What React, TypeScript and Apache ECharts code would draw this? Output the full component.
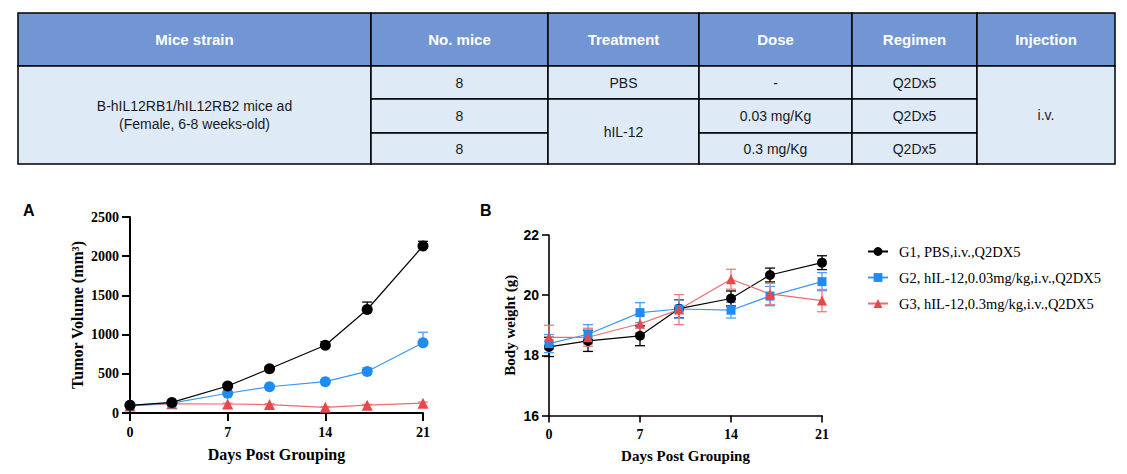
import React, { useEffect, useRef } from "react";
import * as echarts from "echarts";

// ---------- data ----------
const days = [0, 3, 7, 10, 14, 17, 21];
const groupNames = [
  "G1, PBS,i.v.,Q2DX5",
  "G2, hIL-12,0.03mg/kg,i.v.,Q2DX5",
  "G3, hIL-12,0.3mg/kg,i.v.,Q2DX5",
];
const xTicks = [0, 7, 14, 21];

const tumorG1 = [98, 135, 345, 565, 865, 1320, 2130];
const tumorG1Err = [8, 12, 20, 22, 45, 95, 60];
const tumorG2 = [98, 125, 252, 335, 400, 530, 895];
const tumorG2Err = [8, 10, 15, 15, 20, 45, 135];
const tumorG3 = [90, 118, 115, 108, 72, 100, 125];
const tumorG3Err = [6, 8, 10, 10, 10, 10, 15];

const weightG1 = [18.28, 18.48, 18.65, 19.55, 19.89, 20.67, 21.08];
const weightG1Err = [0.32, 0.35, 0.33, 0.3, 0.25, 0.23, 0.23];
const weightG2 = [18.39, 18.7, 19.42, 19.54, 19.5, 19.97, 20.45];
const weightG2Err = [0.3, 0.32, 0.33, 0.3, 0.26, 0.32, 0.3];
const weightG3 = [18.6, 18.6, 19.05, 19.52, 20.53, 20.04, 19.82];
const weightG3Err = [0.4, 0.3, 0.3, 0.5, 0.33, 0.35, 0.37];

const tableHeaders = ["Mice strain", "No. mice", "Treatment", "Dose", "Regimen", "Injection"];
const strainLines = ["B-hIL12RB1/hIL12RB2 mice ad", "(Female, 6-8 weeks-old)"];
const miceCounts = ["8", "8", "8"];
const treatments = ["PBS", "hIL-12"];
const doses = ["-", "0.03 mg/Kg", "0.3 mg/Kg"];
const regimens = ["Q2Dx5", "Q2Dx5", "Q2Dx5"];
const injection = "i.v.";

// ---------- styles ----------
const colors = ["#000000", "#1E8CF5", "#E5484D"];
const lineColors = ["#000000", "#3C96F2", "#EE6A6E"];
const errColors = ["#000000", "#4A9EF5", "#EE7B7E"];
const SERIF = '"Liberation Serif", "Times New Roman", serif';
const SANS = '"Liberation Sans", Arial, sans-serif';

const colX = [18, 371, 548, 699, 852, 977, 1115];
const rowY = [13, 66, 99, 133, 164];
const HEADER_FILL = "#7296D3";
const BODY_FILL = "#DEEAF6";

function buildTable(): any[] {
  const els: any[] = [];
  const cell = (c: number, r0: number, r1: number, fill: string, text: string, font: string, color: string, lh?: number) => {
    const x = colX[c];
    const w = colX[c + 1] - colX[c];
    const y = rowY[r0];
    const h = rowY[r1] - rowY[r0];
    els.push({
      type: "rect",
      shape: { x, y, width: w, height: h },
      style: { fill, stroke: "#000", lineWidth: 1.5 },
      z: 1,
    });
    els.push({
      type: "text",
      x: x + w / 2,
      y: y + h / 2,
      style: {
        text,
        font,
        fill: color,
        textAlign: "center",
        textVerticalAlign: "middle",
        lineHeight: lh || 18,
      },
      z: 2,
    });
  };
  const hFont = `bold 15px ${SANS}`;
  const bFont = `14px ${SANS}`;
  const bColor = "#1a1a1a";
  tableHeaders.forEach((t, i) => cell(i, 0, 1, HEADER_FILL, t, hFont, "#ffffff"));
  cell(0, 1, 4, BODY_FILL, strainLines.join("\n"), bFont, bColor, 18);
  miceCounts.forEach((t, i) => cell(1, i + 1, i + 2, BODY_FILL, t, bFont, bColor));
  cell(2, 1, 2, BODY_FILL, treatments[0], bFont, bColor);
  cell(2, 2, 4, BODY_FILL, treatments[1], bFont, bColor);
  doses.forEach((t, i) => cell(3, i + 1, i + 2, BODY_FILL, t, bFont, bColor));
  regimens.forEach((t, i) => cell(4, i + 1, i + 2, BODY_FILL, t, bFont, bColor));
  cell(5, 1, 4, BODY_FILL, injection, bFont, bColor);
  return els;
}

function errSeries(vals: number[], errs: number[], color: string, upperOnly: boolean, axis: number, capHalf: number, lw: number) {
  return {
    type: "custom",
    xAxisIndex: axis,
    yAxisIndex: axis,
    z: 1,
    clip: false,
    silent: true,
    data: days.map((d, i) => [d, vals[i], errs[i]]),
    encode: { x: 0, y: 1 },
    renderItem: (params: any, api: any) => {
      const x = api.value(0);
      const y = api.value(1);
      const e = api.value(2);
      const top = api.coord([x, y + e]);
      const bot = api.coord([x, upperOnly ? y : y - e]);
      const style = { stroke: color, lineWidth: lw, fill: null };
      const children: any[] = [
        { type: "line", shape: { x1: top[0], y1: top[1], x2: bot[0], y2: bot[1] }, style },
        { type: "line", shape: { x1: top[0] - capHalf, y1: top[1], x2: top[0] + capHalf, y2: top[1] }, style },
      ];
      if (!upperOnly) {
        children.push({ type: "line", shape: { x1: bot[0] - capHalf, y1: bot[1], x2: bot[0] + capHalf, y2: bot[1] }, style });
      }
      return { type: "group", children };
    },
  };
}

function lineSeries(name: string, vals: number[], idx: number, axis: number, symbol: string, size: number) {
  return {
    name,
    type: "line",
    xAxisIndex: axis,
    yAxisIndex: axis,
    data: days.map((d, i) => [d, vals[i]]),
    symbol,
    symbolSize: size,
    showAllSymbol: true,
    clip: false,
    z: 3,
    lineStyle: { color: lineColors[idx], width: 1.2 },
    itemStyle: { color: colors[idx], borderWidth: 0 },
  };
}

function axisX(grid: number, lw: number, tickLen: number, fontSize: number, nameSize: number, nameGap: number) {
  return {
    type: "value",
    gridIndex: grid,
    min: 0,
    max: 21,
    interval: 7,
    splitLine: { show: false },
    axisLine: { show: true, onZero: false, lineStyle: { color: "#000", width: lw } },
    axisTick: { show: true, inside: false, length: tickLen, lineStyle: { color: "#000", width: lw } },
    axisLabel: {
      color: "#000",
      fontFamily: SERIF,
      fontWeight: "bold",
      fontSize,
      margin: 12,
      formatter: (v: number) => (xTicks.includes(v) ? String(v) : ""),
    },
    name: "Days Post Grouping",
    nameLocation: "middle",
    nameGap,
    nameTextStyle: { color: "#000", fontFamily: SERIF, fontWeight: "bold", fontSize: nameSize },
  };
}

export default function App() {
  const ref = useRef<HTMLDivElement>(null);
  useEffect(() => {
    if (!ref.current) return;
    const chart = echarts.init(ref.current, undefined, { renderer: "svg" });
    const option: any = {
      animation: false,
      backgroundColor: "#ffffff",
      grid: [
        { left: 130, top: 217, width: 293, height: 196 },
        { left: 549, top: 235, width: 273, height: 180.5 },
      ],
      xAxis: [axisX(0, 2, 8, 14, 16, 33), axisX(1, 1.6, 7, 14, 15, 33)],
      yAxis: [
        {
          type: "value",
          gridIndex: 0,
          min: 0,
          max: 2500,
          interval: 500,
          splitLine: { show: false },
          axisLine: { show: true, onZero: false, lineStyle: { color: "#000", width: 2 } },
          axisTick: { show: true, inside: false, length: 8, lineStyle: { color: "#000", width: 2 } },
          axisLabel: {
            color: "#000",
            fontFamily: SERIF,
            fontWeight: "bold",
            fontSize: 14,
            margin: 11,
            formatter: (v: number) => String(v),
          },
          name: "Tumor Volume (mm³)",
          nameLocation: "middle",
          nameGap: 45,
          nameTextStyle: { color: "#000", fontFamily: SERIF, fontWeight: "bold", fontSize: 16 },
        },
        {
          type: "value",
          gridIndex: 1,
          min: 16,
          max: 22,
          interval: 2,
          splitLine: { show: false },
          axisLine: { show: true, onZero: false, lineStyle: { color: "#000", width: 1.6 } },
          axisTick: { show: true, inside: false, length: 7, lineStyle: { color: "#000", width: 1.6 } },
          axisLabel: { color: "#000", fontFamily: SANS, fontWeight: "bold", fontSize: 14, margin: 10 },
          name: "Body weight (g)",
          nameLocation: "middle",
          nameGap: 32,
          nameTextStyle: { color: "#000", fontFamily: SERIF, fontWeight: "bold", fontSize: 15 },
        },
      ],
      legend: {
        orient: "vertical",
        left: 862,
        top: 239,
        itemGap: 11,
        itemWidth: 20,
        itemHeight: 11,
        data: groupNames,
        textStyle: { color: "#000", fontFamily: SERIF, fontSize: 14.5, padding: [0, 0, 0, 6] },
      },
      graphic: [
        ...buildTable(),
        { type: "text", x: 23, y: 210, style: { text: "A", font: `bold 16px ${SANS}`, fill: "#000", textVerticalAlign: "middle" } },
        { type: "text", x: 480, y: 210, style: { text: "B", font: `bold 16px ${SANS}`, fill: "#000", textVerticalAlign: "middle" } },
      ],
      series: [
        errSeries(tumorG1, tumorG1Err, errColors[0], true, 0, 5, 1.3),
        errSeries(tumorG2, tumorG2Err, errColors[1], true, 0, 5, 1.3),
        errSeries(tumorG3, tumorG3Err, errColors[2], true, 0, 5, 1.3),
        lineSeries("A-G3", tumorG3, 2, 0, "triangle", 11),
        lineSeries("A-G2", tumorG2, 1, 0, "circle", 11),
        lineSeries("A-G1", tumorG1, 0, 0, "circle", 11),
        errSeries(weightG1, weightG1Err, errColors[0], false, 1, 5, 1.3),
        errSeries(weightG2, weightG2Err, errColors[1], false, 1, 5, 1.3),
        errSeries(weightG3, weightG3Err, errColors[2], false, 1, 5, 1.3),
        lineSeries(groupNames[0], weightG1, 0, 1, "circle", 10),
        lineSeries(groupNames[1], weightG2, 1, 1, "rect", 9),
        lineSeries(groupNames[2], weightG3, 2, 1, "triangle", 10),
      ],
    };
    chart.setOption(option);
    return () => chart.dispose();
  }, []);
  return (
    <div
      ref={ref}
      style={{ position: "fixed", left: 0, top: 0, width: 1127, height: 474, background: "#fff" }}
    />
  );
}
